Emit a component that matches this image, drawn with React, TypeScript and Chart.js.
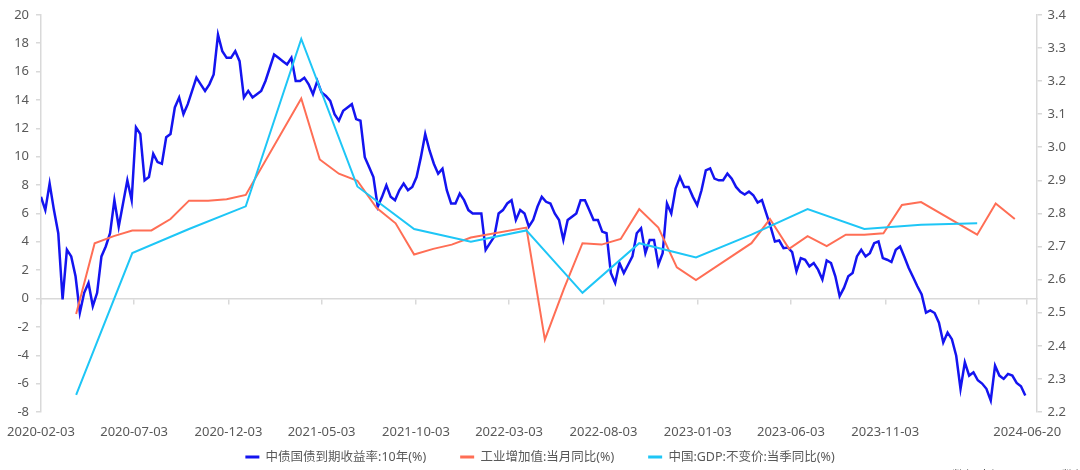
import React, { useEffect, useRef } from "react";
import { Chart, registerables } from "chart.js";

Chart.register(...registerables);

// ---------------- data ----------------
const BASE_DATE = "2020-02-03";
const AXIS_END_PAD_DAYS = 16;

// 中债国债到期收益率:10年(%) — weekly observations starting 2020-02-03
const YIELD_START = "2020-02-03";
const YIELD_STEP_DAYS = 7;
const yieldValues = [
  2.85, 2.81, 2.89, 2.81, 2.74, 2.54, 2.69, 2.67, 2.61, 2.5,
  2.56, 2.59, 2.52, 2.56, 2.67, 2.7, 2.74, 2.84, 2.76, 2.83,
  2.9, 2.84, 3.06, 3.04, 2.9, 2.91, 2.98, 2.955, 2.95, 3.03,
  3.04, 3.12, 3.15, 3.1, 3.13, 3.17, 3.21, 3.19, 3.17, 3.19,
  3.22, 3.34, 3.29, 3.27, 3.27, 3.29, 3.26, 3.15, 3.17, 3.15,
  3.16, 3.17, 3.2, 3.24, 3.28, 3.27, 3.26, 3.25, 3.27, 3.2,
  3.2, 3.21, 3.19, 3.16, 3.2, 3.165, 3.155, 3.14, 3.1, 3.08,
  3.11, 3.12, 3.13, 3.085, 3.08, 2.97, 2.94, 2.91, 2.82, 2.85,
  2.885, 2.85, 2.84, 2.87, 2.89, 2.87, 2.88, 2.91, 2.97, 3.04,
  2.99, 2.95, 2.92, 2.935, 2.87, 2.83, 2.83, 2.86, 2.84, 2.81,
  2.8, 2.8, 2.8, 2.69, 2.71, 2.73, 2.8, 2.81, 2.83, 2.84,
  2.78, 2.81, 2.8, 2.76, 2.78, 2.82, 2.85, 2.835, 2.83, 2.8,
  2.78, 2.72, 2.78, 2.79, 2.8, 2.84, 2.84, 2.81, 2.78, 2.78,
  2.745, 2.74, 2.62, 2.59, 2.65, 2.62, 2.645, 2.67, 2.74, 2.755,
  2.68, 2.72, 2.72, 2.645, 2.68, 2.83, 2.8, 2.875, 2.91, 2.88,
  2.88, 2.85, 2.825, 2.87, 2.93, 2.936, 2.905, 2.9, 2.9, 2.92,
  2.905, 2.88, 2.865, 2.857, 2.866, 2.855, 2.833, 2.84, 2.8, 2.76,
  2.715, 2.718, 2.695, 2.697, 2.683, 2.625, 2.665, 2.66, 2.64, 2.65,
  2.63, 2.6, 2.658, 2.65, 2.61, 2.55, 2.575, 2.61, 2.62, 2.67,
  2.69, 2.67, 2.68, 2.71, 2.715, 2.665, 2.66, 2.653, 2.69, 2.7,
  2.668, 2.635, 2.608, 2.58, 2.555, 2.5, 2.507, 2.499, 2.47, 2.41,
  2.44, 2.42, 2.37, 2.27, 2.35, 2.31, 2.32, 2.296, 2.286, 2.27,
  2.235, 2.34, 2.31, 2.3, 2.315, 2.31, 2.288, 2.278, 2.25,
];

// 工业增加值:当月同比(%) — monthly (month-end dates)
const ipDates = [
  "2020-03-31", "2020-04-30", "2020-05-31", "2020-06-30", "2020-07-31", "2020-08-31",
  "2020-09-30", "2020-10-31", "2020-11-30", "2020-12-31",
  "2021-03-31", "2021-04-30", "2021-05-31", "2021-06-30", "2021-07-31", "2021-08-31",
  "2021-09-30", "2021-10-31", "2021-11-30", "2021-12-31",
  "2022-03-31", "2022-04-30", "2022-05-31", "2022-06-30", "2022-07-31", "2022-08-31",
  "2022-09-30", "2022-10-31", "2022-11-30", "2022-12-31",
  "2023-03-31", "2023-04-30", "2023-05-31", "2023-06-30", "2023-07-31", "2023-08-31",
  "2023-09-30", "2023-10-31", "2023-11-30", "2023-12-31",
  "2024-03-31", "2024-04-30", "2024-05-31",
];
const ipValues = [
  -1.1, 3.9, 4.4, 4.8, 4.8, 5.6, 6.9, 6.9, 7.0, 7.3,
  14.1, 9.8, 8.8, 8.3, 6.4, 5.3, 3.1, 3.5, 3.8, 4.3,
  5.0, -2.9, 0.7, 3.9, 3.8, 4.2, 6.3, 5.0, 2.2, 1.3,
  3.9, 5.6, 3.5, 4.4, 3.7, 4.5, 4.5, 4.6, 6.6, 6.8,
  4.5, 6.7, 5.6,
];

// 中国:GDP:不变价:当季同比(%) — quarterly (quarter-end dates)
const gdpDates = [
  "2020-03-31", "2020-06-30", "2020-09-30", "2020-12-31",
  "2021-03-31", "2021-06-30", "2021-09-30", "2021-12-31",
  "2022-03-31", "2022-06-30", "2022-09-30", "2022-12-31",
  "2023-03-31", "2023-06-30", "2023-09-30", "2023-12-31",
  "2024-03-31",
];
const gdpValues = [
  -6.8, 3.2, 4.9, 6.5,
  18.3, 7.9, 4.9, 4.0,
  4.8, 0.4, 3.9, 2.9,
  4.5, 6.3, 4.9, 5.2,
  5.3,
];

// x-axis tick marks (on the zero line) and tick labels (bottom)
const xTickDates = [
  "2020-02-03", "2020-07-03", "2020-12-03", "2021-05-03", "2021-10-03", "2022-03-03",
  "2022-08-03", "2023-01-03", "2023-06-03", "2023-11-03", "2024-04-03", "2024-06-20",
];
const xLabelDates = [
  "2020-02-03", "2020-07-03", "2020-12-03", "2021-05-03", "2021-10-03", "2022-03-03",
  "2022-08-03", "2023-01-03", "2023-06-03", "2023-11-03", "2024-06-20",
];
const LAST_DATE = "2024-06-20";

const seriesLabels = [
  "中债国债到期收益率:10年(%)",
  "工业增加值:当月同比(%)",
  "中国:GDP:不变价:当季同比(%)",
];

// ---------------- helpers ----------------
const MS_DAY = 86400000;
function toUTC(d: string): number {
  const [y, m, dd] = d.split("-").map(Number);
  return Date.UTC(y, m - 1, dd);
}
function dayOffset(d: string): number {
  return Math.round((toUTC(d) - toUTC(BASE_DATE)) / MS_DAY);
}
function fmtDate(ms: number): string {
  const dt = new Date(ms);
  const p = (n: number) => String(n).padStart(2, "0");
  return `${dt.getUTCFullYear()}-${p(dt.getUTCMonth() + 1)}-${p(dt.getUTCDate())}`;
}

const yieldDates = yieldValues.map((_, i) =>
  fmtDate(toUTC(YIELD_START) + i * YIELD_STEP_DAYS * MS_DAY)
);

const AXIS_COLOR = "#d9d9d9";
const TEXT_COLOR = "#595959";
const FONT_FAMILY = "'Noto Sans', 'Noto Sans CJK SC', sans-serif";

export default function App() {
  const canvasRef = useRef<HTMLCanvasElement | null>(null);

  useEffect(() => {
    if (!canvasRef.current) return;
    Chart.defaults.font.family = FONT_FAMILY;
    Chart.defaults.color = TEXT_COLOR;

    const xMax = dayOffset(LAST_DATE) + AXIS_END_PAD_DAYS;
    const tickDays = xTickDates.map(dayOffset);
    const labelDays = xLabelDates.map(dayOffset);
    const labelMap: Record<number, string> = {};
    xLabelDates.forEach((d) => (labelMap[dayOffset(d)] = d));

    const chart = new Chart(canvasRef.current, {
      type: "line",
      data: {
        datasets: [
          {
            label: seriesLabels[0],
            data: yieldDates.map((d, i) => ({ x: dayOffset(d), y: yieldValues[i] })),
            borderColor: "#1414f0",
            backgroundColor: "#1414f0",
            borderWidth: 2.5,
            pointRadius: 0,
            xAxisID: "x",
            yAxisID: "y1",
            order: 3,
          },
          {
            label: seriesLabels[1],
            data: ipDates.map((d, i) => ({ x: dayOffset(d), y: ipValues[i] })),
            borderColor: "#ff6e55",
            backgroundColor: "#ff6e55",
            borderWidth: 2,
            pointRadius: 0,
            xAxisID: "x",
            yAxisID: "y",
            order: 2,
          },
          {
            label: seriesLabels[2],
            data: gdpDates.map((d, i) => ({ x: dayOffset(d), y: gdpValues[i] })),
            borderColor: "#1ec6f6",
            backgroundColor: "#1ec6f6",
            borderWidth: 2,
            pointRadius: 0,
            xAxisID: "x",
            yAxisID: "y",
            order: 1,
          },
        ],
      },
      options: {
        responsive: false,
        animation: false,
        events: [],
        layout: { padding: { top: 9, left: 0, right: 0, bottom: -3.25 } },
        plugins: {
          tooltip: { enabled: false },
          legend: {
            position: "bottom",
            labels: {
              boxWidth: 14,
              boxHeight: 3,
              padding: 34,
              color: TEXT_COLOR,
              font: { size: 12.5, family: FONT_FAMILY },
              generateLabels: (c: any) =>
                c.data.datasets.map((ds: any, i: number) => ({
                  text: ds.label,
                  fillStyle: ds.borderColor,
                  strokeStyle: ds.borderColor,
                  lineWidth: 0,
                  hidden: false,
                  datasetIndex: i,
                  fontColor: TEXT_COLOR,
                })),
            },
          },
        },
        scales: {
          // axis line + tick marks drawn along the zero line
          x: {
            type: "linear",
            position: { y: 0 } as any,
            min: 0,
            max: xMax,
            border: { display: true, color: AXIS_COLOR, width: 1.5 },
            grid: { drawOnChartArea: false, drawTicks: true, tickLength: 5, color: AXIS_COLOR, lineWidth: 1.5 },
            ticks: { display: false },
            afterBuildTicks: (s: any) => {
              s.ticks = tickDays.map((v) => ({ value: v }));
            },
          },
          // date labels along the bottom of the plot
          x2: {
            type: "linear",
            position: { y: -8 } as any,
            min: 0,
            max: xMax,
            border: { display: false },
            grid: { display: false },
            ticks: {
              padding: 4,
              maxRotation: 0,
              autoSkip: false,
              color: TEXT_COLOR,
              font: { size: 13, family: FONT_FAMILY },
              callback: (v: any) => labelMap[v] ?? "",
            },
            afterBuildTicks: (s: any) => {
              s.ticks = labelDays.map((v) => ({ value: v }));
            },
          },
          // spacer reserving room between the plot and the legend
          xs: {
            type: "linear",
            position: "bottom",
            min: 0,
            max: xMax,
            border: { display: false },
            grid: { display: false },
            ticks: { display: false },
            afterFit: (s: any) => {
              s.height = 4.75;
            },
          },
          y: {
            type: "linear",
            position: "left",
            min: -8,
            max: 20,
            border: { display: true, color: AXIS_COLOR, width: 1.5 },
            grid: { drawOnChartArea: false, drawTicks: true, tickLength: 5, color: AXIS_COLOR, lineWidth: 1.5 },
            ticks: {
              stepSize: 2,
              padding: 7,
              color: TEXT_COLOR,
              font: { size: 13, family: FONT_FAMILY },
            },
            afterFit: (s: any) => {
              s.width = 41;
            },
          },
          y1: {
            type: "linear",
            position: "right",
            min: 2.2,
            max: 3.4,
            border: { display: true, color: AXIS_COLOR, width: 1.5 },
            grid: { drawOnChartArea: false, drawTicks: true, tickLength: 5, color: AXIS_COLOR, lineWidth: 1.5 },
            ticks: {
              stepSize: 0.1,
              padding: 5.5,
              color: TEXT_COLOR,
              font: { size: 13, family: FONT_FAMILY },
              callback: (v: any) => Number(v).toFixed(1),
            },
            afterFit: (s: any) => {
              s.width = 43;
            },
          },
        },
      } as any,
    });

    return () => chart.destroy();
  }, []);

  return (
    <div
      style={{
        position: "fixed",
        left: 0,
        top: 0,
        width: 1080,
        height: 470,
        overflow: "hidden",
        background: "#ffffff",
      }}
    >
      <canvas ref={canvasRef} width={1080} height={470} style={{ display: "block" }} />
      <div
        style={{
          position: "absolute",
          left: 952,
          top: 465,
          fontFamily: FONT_FAMILY,
          fontSize: 13,
          color: TEXT_COLOR,
          whiteSpace: "nowrap",
        }}
      >
        数据来源：Wind，数据整理
      </div>
    </div>
  );
}
